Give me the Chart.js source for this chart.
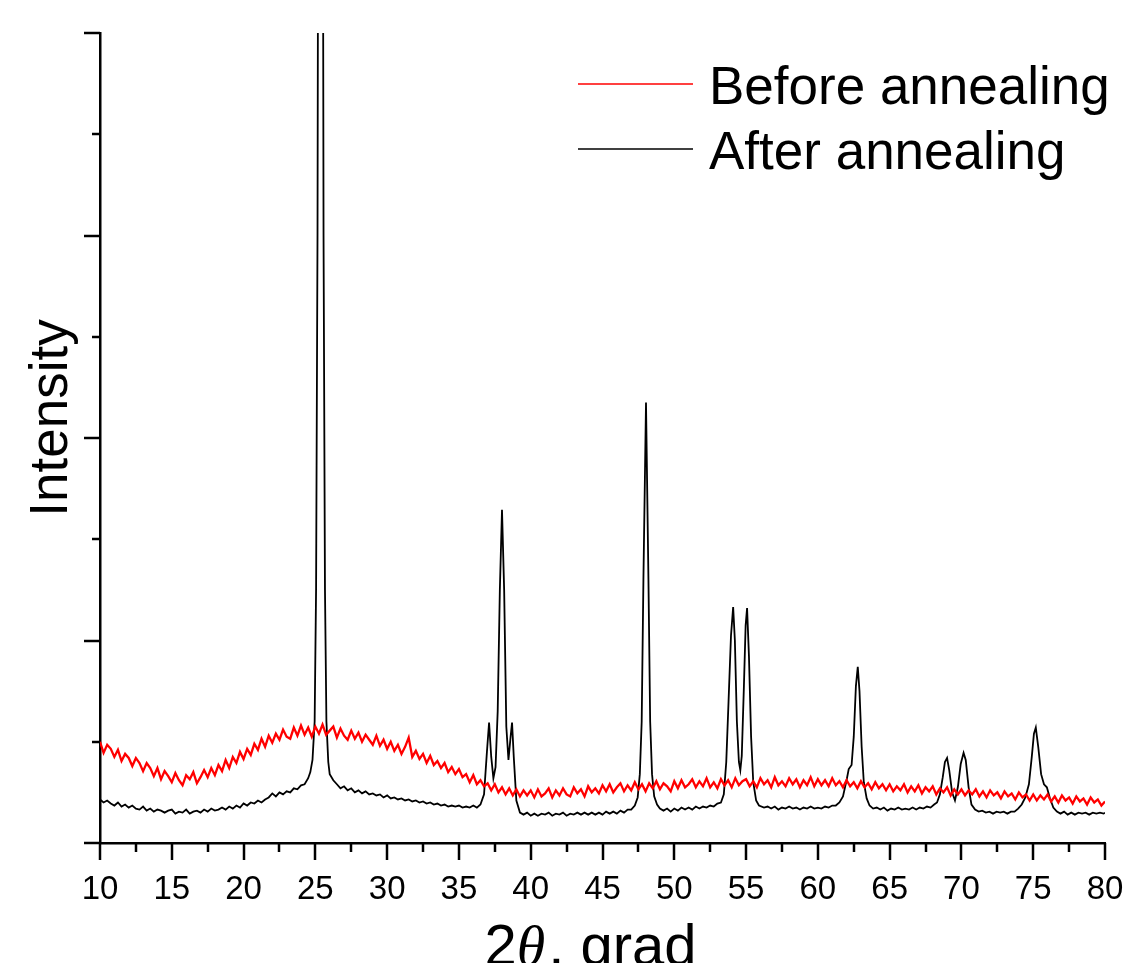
<!DOCTYPE html>
<html>
<head>
<meta charset="utf-8">
<title>XRD</title>
<script src="https://cdn.jsdelivr.net/npm/chart.js@4.4.1/dist/chart.umd.min.js"></script>
<style>
  html, body { margin: 0; padding: 0; background: #fff; }
</style>
</head>
<body>
<canvas id="xrd" width="1124" height="963"></canvas>
<script>
const seriesLabels = ['Before annealing', 'After annealing'];

// Antes do recozimento: passo fixo de 0.25 grau, de 10 a 80
const beforeStart = 10;
const beforeStep = 0.25;
const beforeIntensity = [
  1.00, 0.89, 0.97, 0.93, 0.85, 0.92, 0.81, 0.88, 0.84, 0.76, 0.84, 0.79, 0.71, 0.79, 0.74, 0.66, 0.74, 0.63, 0.71, 0.66,
  0.60, 0.69, 0.62, 0.57, 0.67, 0.63, 0.70, 0.59, 0.65, 0.72, 0.65, 0.74, 0.67, 0.77, 0.71, 0.82, 0.74, 0.85, 0.79, 0.90,
  0.83, 0.93, 0.87, 0.98, 0.92, 1.03, 0.95, 1.06, 0.99, 1.08, 1.02, 1.12, 1.05, 1.03, 1.14, 1.06, 1.16, 1.07, 1.14, 1.05,
  1.15, 1.08, 1.17, 1.07, 1.11, 1.15, 1.04, 1.13, 1.06, 1.02, 1.11, 1.03, 1.09, 1.00, 1.07, 1.02, 0.97, 1.06, 0.96, 1.02,
  0.93, 1.00, 0.91, 0.97, 0.88, 0.95, 1.04, 0.85, 0.91, 0.83, 0.88, 0.79, 0.86, 0.77, 0.81, 0.74, 0.79, 0.70, 0.75, 0.68,
  0.73, 0.65, 0.68, 0.60, 0.67, 0.58, 0.62, 0.56, 0.59, 0.52, 0.58, 0.50, 0.55, 0.48, 0.54, 0.47, 0.53, 0.46, 0.52, 0.47,
  0.52, 0.45, 0.53, 0.46, 0.49, 0.54, 0.45, 0.52, 0.47, 0.54, 0.48, 0.46, 0.55, 0.49, 0.53, 0.46, 0.56, 0.50, 0.54, 0.49,
  0.57, 0.51, 0.58, 0.50, 0.55, 0.59, 0.51, 0.57, 0.52, 0.60, 0.53, 0.58, 0.51, 0.59, 0.54, 0.61, 0.53, 0.59, 0.56, 0.51,
  0.61, 0.54, 0.62, 0.55, 0.58, 0.63, 0.55, 0.61, 0.56, 0.64, 0.55, 0.60, 0.54, 0.63, 0.57, 0.62, 0.55, 0.64, 0.57, 0.61,
  0.63, 0.56, 0.61, 0.55, 0.64, 0.58, 0.62, 0.55, 0.65, 0.57, 0.61, 0.56, 0.64, 0.58, 0.63, 0.55, 0.62, 0.57, 0.65, 0.56,
  0.63, 0.57, 0.62, 0.56, 0.64, 0.57, 0.61, 0.55, 0.62, 0.56, 0.60, 0.54, 0.61, 0.55, 0.59, 0.53, 0.60, 0.54, 0.58, 0.52,
  0.58, 0.51, 0.56, 0.52, 0.58, 0.50, 0.56, 0.51, 0.57, 0.49, 0.55, 0.51, 0.56, 0.48, 0.54, 0.50, 0.55, 0.47, 0.53, 0.48,
  0.53, 0.47, 0.52, 0.48, 0.53, 0.46, 0.51, 0.45, 0.52, 0.47, 0.50, 0.44, 0.51, 0.46, 0.49, 0.43, 0.50, 0.45, 0.48, 0.42,
  0.48, 0.42, 0.47, 0.43, 0.48, 0.41, 0.46, 0.40, 0.47, 0.42, 0.45, 0.39, 0.46, 0.41, 0.44, 0.38, 0.45, 0.40, 0.43, 0.37,
  0.41
];

// Depois do recozimento: ângulos não uniformes (mais pontos nos picos)
const afterAngle = [
  10, 10.25, 10.5, 10.75, 11, 11.25, 11.5, 11.75, 12, 12.25, 12.5, 12.75, 13, 13.25, 13.5, 13.75, 14, 14.25, 14.5, 14.75,
  15, 15.25, 15.5, 15.75, 16, 16.25, 16.5, 16.75, 17, 17.25, 17.5, 17.75, 18, 18.25, 18.5, 18.75, 19, 19.25, 19.5, 19.75,
  20, 20.25, 20.5, 20.75, 21, 21.25, 21.5, 21.75, 22, 22.25, 22.5, 22.75, 23, 23.25, 23.5, 23.75, 24, 24.25, 24.5,
  24.65, 24.8, 24.95, 25.05, 25.15, 25.25, 25.36, 25.47, 25.57, 25.67, 25.77, 25.9, 26, 26.25,
  26.5, 26.75, 27, 27.25, 27.5, 27.75, 28, 28.25, 28.5, 28.75, 29, 29.25, 29.5, 29.75, 30, 30.25, 30.5, 30.75,
  31, 31.25, 31.5, 31.75, 32, 32.25, 32.5, 32.75, 33, 33.25, 33.5, 33.75, 34, 34.25, 34.5, 34.75, 35, 35.25, 35.5, 35.75,
  36, 36.25, 36.5, 36.75, 36.95, 37.1, 37.25, 37.4, 37.55, 37.7, 37.85, 38, 38.15, 38.3, 38.45, 38.6, 38.7, 38.82, 39, 39.25,
  39.5, 39.75, 40, 40.25, 40.5, 40.75, 41, 41.25, 41.5, 41.75, 42, 42.25, 42.5, 42.75, 43, 43.25, 43.5, 43.75, 44, 44.25,
  44.5, 44.75, 45, 45.25, 45.5, 45.75, 46, 46.25, 46.5, 46.75,
  47, 47.25, 47.45, 47.6, 47.73, 47.85, 48.03, 48.2, 48.32, 48.45, 48.6, 48.8, 49,
  49.25, 49.5, 49.75, 50, 50.25, 50.5, 50.75, 51, 51.25, 51.5, 51.75, 52, 52.25, 52.5, 52.75, 53,
  53.25, 53.45, 53.62, 53.78, 53.95, 54.1, 54.22, 54.36, 54.5, 54.6, 54.7, 54.85, 54.97, 55.07, 55.2, 55.35, 55.5, 55.7, 55.9,
  56.25, 56.5, 56.75, 57, 57.25, 57.5, 57.75, 58, 58.25, 58.5, 58.75, 59, 59.25, 59.5, 59.75, 60, 60.25, 60.5, 60.75, 61, 61.25, 61.5,
  61.75, 62, 62.15, 62.35, 62.5, 62.65, 62.78, 62.9, 63.05, 63.2, 63.4, 63.6,
  63.85, 64.1, 64.35, 64.6, 64.85, 65.1, 65.35, 65.6, 65.85, 66.1, 66.35, 66.6, 66.85, 67.1, 67.35, 67.6, 67.85, 68.1, 68.3,
  68.5, 68.7, 68.85, 69, 69.15, 69.35, 69.55, 69.75, 69.95, 70.15, 70.3, 70.5, 70.7, 70.95,
  71.2, 71.45, 71.7, 71.95, 72.2, 72.45, 72.7, 72.95, 73.2, 73.45, 73.7, 73.95,
  74.2, 74.45, 74.7, 74.9, 75.05, 75.18, 75.35, 75.55, 75.75, 75.95, 76.15, 76.4,
  76.65, 76.9, 77.15, 77.4, 77.65, 77.9, 78.15, 78.4, 78.65, 78.9, 79.15, 79.4, 79.65, 79.9, 80
];
const afterIntensity = [
  0.43, 0.40, 0.42, 0.39, 0.37, 0.40, 0.36, 0.38, 0.35, 0.37, 0.34, 0.33, 0.36, 0.32, 0.34, 0.31, 0.33, 0.32, 0.30, 0.32,
  0.33, 0.29, 0.31, 0.30, 0.33, 0.29, 0.31, 0.32, 0.30, 0.33, 0.31, 0.34, 0.32, 0.33, 0.35, 0.33, 0.36, 0.34, 0.37, 0.35,
  0.39, 0.37, 0.40, 0.39, 0.42, 0.40, 0.43, 0.45, 0.49, 0.46, 0.50, 0.48, 0.51, 0.50, 0.54, 0.53, 0.57, 0.58, 0.64,
  0.70, 0.82, 1.2, 2.5, 6, 14, 20, 14, 6, 2.5, 1.2, 0.80, 0.68, 0.62,
  0.58, 0.54, 0.56, 0.52, 0.54, 0.50, 0.52, 0.49, 0.51, 0.48, 0.49, 0.47, 0.48, 0.45, 0.47, 0.44, 0.45, 0.43,
  0.44, 0.42, 0.43, 0.41, 0.42, 0.40, 0.41, 0.39, 0.40, 0.38, 0.39, 0.37, 0.38, 0.36, 0.37, 0.36, 0.37, 0.35, 0.36, 0.35,
  0.37, 0.35, 0.38, 0.48, 0.9, 1.19, 0.85, 0.64, 0.75, 1.3, 2.5, 3.29, 2.5, 1.15, 0.82, 1.05, 1.19, 0.85, 0.42, 0.30,
  0.28, 0.30, 0.27, 0.29, 0.27, 0.29, 0.28, 0.30, 0.27, 0.29, 0.28, 0.30, 0.27, 0.29, 0.28, 0.30, 0.28, 0.30, 0.28, 0.30,
  0.28, 0.30, 0.28, 0.31, 0.29, 0.31, 0.29, 0.32, 0.30, 0.33,
  0.33, 0.37, 0.45, 0.68, 1.2, 2.6, 4.35, 2.6, 1.2, 0.68, 0.46, 0.38, 0.34,
  0.32, 0.34, 0.31, 0.34, 0.32, 0.35, 0.33, 0.35, 0.33, 0.36, 0.34, 0.36, 0.35, 0.37, 0.36, 0.39,
  0.40, 0.48, 0.8, 1.4, 2.05, 2.33, 2.0, 1.2, 0.8, 0.72, 0.86, 1.55, 2.15, 2.32, 1.85, 1.05, 0.6, 0.42, 0.37,
  0.35, 0.36, 0.34, 0.36, 0.33, 0.35, 0.34, 0.36, 0.34, 0.35, 0.33, 0.35, 0.34, 0.36, 0.34, 0.35, 0.34, 0.36, 0.35, 0.37, 0.37, 0.40,
  0.46, 0.62, 0.73, 0.77, 1.05, 1.55, 1.74, 1.5, 0.95, 0.6, 0.44, 0.37,
  0.34, 0.35, 0.33, 0.35, 0.32, 0.34, 0.33, 0.35, 0.33, 0.34, 0.33, 0.35, 0.33, 0.35, 0.34, 0.36, 0.35, 0.38, 0.40,
  0.48, 0.65, 0.8, 0.84, 0.72, 0.50, 0.42, 0.55, 0.78, 0.89, 0.82, 0.55, 0.38, 0.33,
  0.31, 0.32, 0.30, 0.31, 0.29, 0.31, 0.30, 0.31, 0.29, 0.31, 0.31, 0.34,
  0.38, 0.45, 0.58, 0.85, 1.08, 1.14, 0.95, 0.68, 0.58, 0.55, 0.45, 0.35,
  0.31, 0.29, 0.31, 0.28, 0.30, 0.28, 0.30, 0.29, 0.30, 0.28, 0.30, 0.29, 0.30, 0.29, 0.30
];

// Marcas dos eixos (maiores e menores)
const xTickValues = [10, 12.5, 15, 17.5, 20, 22.5, 25, 27.5, 30, 32.5, 35, 37.5, 40, 42.5, 45, 47.5,
  50, 52.5, 55, 57.5, 60, 62.5, 65, 67.5, 70, 72.5, 75, 77.5, 80];
const yTickValues = [0, 1, 2, 3, 4, 5, 6, 7, 8];

const SANS = '"Liberation Sans", Arial, sans-serif';

// Monta os pontos {x, y}
const beforePoints = beforeIntensity.map((v, i) => ({ x: beforeStart + i * beforeStep, y: v }));
const afterPoints = afterAngle.map((a, i) => ({ x: a, y: afterIntensity[i] }));

// Plugin: marcas, legenda e títulos dos eixos
const decoracao = {
  id: 'decoracao',
  afterDraw(chart) {
    const { ctx, chartArea: area } = chart;
    const xs = chart.scales.x;
    const ys = chart.scales.y;
    ctx.save();
    ctx.strokeStyle = '#000';
    ctx.lineWidth = 2.5;

    // marcas do eixo x (para fora, para baixo)
    xTickValues.forEach(v => {
      const px = Math.round(xs.getPixelForValue(v));
      const len = v % 5 === 0 ? 17 : 9;
      ctx.beginPath();
      ctx.moveTo(px, area.bottom);
      ctx.lineTo(px, area.bottom + len);
      ctx.stroke();
    });

    // marcas do eixo y (para fora, para a esquerda)
    yTickValues.forEach(v => {
      const py = Math.round(ys.getPixelForValue(v));
      const len = v % 2 === 0 ? 16 : 8;
      ctx.beginPath();
      ctx.moveTo(area.left - len, py);
      ctx.lineTo(area.left, py);
      ctx.stroke();
    });

    // legenda
    const legendY = [84, 149];
    chart.data.datasets.forEach((ds, i) => {
      ctx.strokeStyle = ds.borderColor;
      ctx.lineWidth = 1.6;
      ctx.beginPath();
      ctx.moveTo(578, legendY[i]);
      ctx.lineTo(693, legendY[i]);
      ctx.stroke();
      ctx.fillStyle = '#000';
      ctx.font = '53px ' + SANS;
      ctx.textBaseline = 'alphabetic';
      ctx.textAlign = 'left';
      ctx.fillText(ds.label, 709, legendY[i] + 20);
    });

    // título do eixo y
    ctx.save();
    ctx.translate(67, 418);
    ctx.rotate(-Math.PI / 2);
    ctx.font = '53px ' + SANS;
    ctx.textAlign = 'center';
    ctx.textBaseline = 'alphabetic';
    ctx.fillStyle = '#000';
    ctx.fillText('Intensity', 0, 0);
    ctx.restore();

    // título do eixo x: 2θ, grad (θ em itálico)
    const partes = [
      { t: '2', f: '58px ' + SANS },
      { t: 'θ', f: 'italic 58px "Liberation Serif", "Times New Roman", serif' },
      { t: ', grad', f: '58px ' + SANS }
    ];
    let total = 0;
    partes.forEach(p => { ctx.font = p.f; p.w = ctx.measureText(p.t).width; total += p.w; });
    let cx = 589 - total / 2;
    ctx.fillStyle = '#000';
    ctx.textAlign = 'left';
    partes.forEach(p => {
      ctx.font = p.f;
      ctx.fillText(p.t, cx, 965);
      cx += p.w + (p.t === 'θ' ? 3 : 0);
    });
    ctx.restore();
  }
};

new Chart(document.getElementById('xrd').getContext('2d'), {
  type: 'line',
  data: {
    datasets: [
      {
        label: seriesLabels[0],
        data: beforePoints,
        borderColor: '#ff0000',
        borderWidth: 2.3,
        pointRadius: 0,
        tension: 0
      },
      {
        label: seriesLabels[1],
        data: afterPoints,
        borderColor: '#000000',
        borderWidth: 1.8,
        pointRadius: 0,
        tension: 0
      }
    ]
  },
  options: {
    responsive: false,
    animation: false,
    layout: { padding: { top: 33, right: 19, left: 0, bottom: 0 } },
    plugins: {
      legend: { display: false },
      tooltip: { enabled: false }
    },
    scales: {
      x: {
        type: 'linear',
        min: 10,
        max: 80,
        afterFit: s => { s.height = 120; s.paddingLeft = 0; s.paddingRight = 0; },
        grid: { display: false },
        border: { display: true, color: '#000', width: 2.5 },
        ticks: {
          stepSize: 5,
          padding: 19,
          color: '#000',
          font: { family: SANS, size: 33 },
          maxRotation: 0,
          autoSkip: false
        }
      },
      y: {
        min: 0,
        max: 8,
        afterFit: s => { s.width = 100; s.paddingTop = 0; s.paddingBottom = 0; },
        grid: { display: false },
        border: { display: true, color: '#000', width: 2.5 },
        ticks: { display: false, stepSize: 1 }
      }
    }
  },
  plugins: [decoracao]
});
</script>
</body>
</html>
